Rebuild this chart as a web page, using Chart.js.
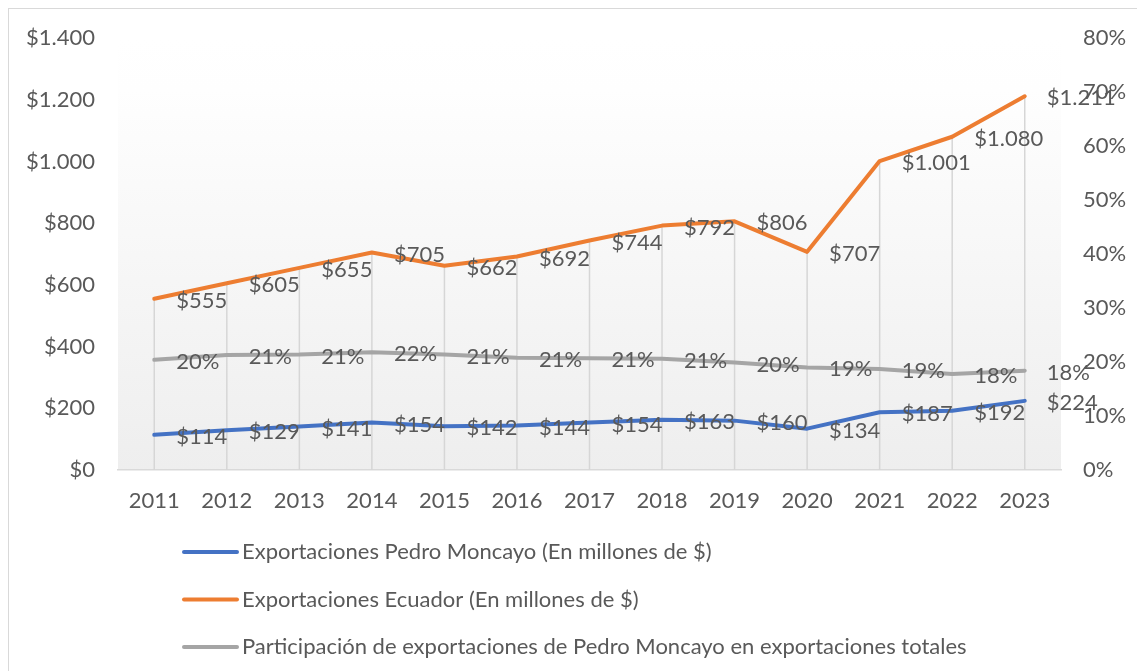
<!DOCTYPE html>
<html>
<head>
<meta charset="utf-8">
<title>Exportaciones Pedro Moncayo</title>
<script src="https://cdn.jsdelivr.net/npm/chart.js@4.4.1/dist/chart.umd.min.js"></script>
<style>
    html, body { margin: 0; padding: 0; background: #fff; overflow: hidden; }
    #wrap { position: relative; width: 1137px; height: 671px; overflow: hidden; }
    #frame { position: absolute; left: 8px; top: 8px; width: 1200px; height: 700px; border: 1.5px solid #d9d9d9; }
    #chart { position: absolute; left: 0; top: 0; }
</style>
</head>
<body>
<div id="wrap">
    <div id="frame"></div>
    <canvas id="chart" width="1137" height="671"></canvas>
</div>
<script>
const years = ['2011', '2012', '2013', '2014', '2015', '2016', '2017', '2018', '2019', '2020', '2021', '2022', '2023'];
const pedroMoncayo = [114, 129, 141, 154, 142, 144, 154, 163, 160, 134, 187, 192, 224];
const ecuador = [555, 605, 655, 705, 662, 692, 744, 792, 806, 707, 1001, 1080, 1211];
const participacion = [0.204, 0.213, 0.214, 0.218, 0.214, 0.208, 0.207, 0.206, 0.199, 0.190, 0.187, 0.178, 0.184];

const seriesLabels = [
    'Exportaciones Pedro Moncayo (En millones de $)',
    'Exportaciones Ecuador (En millones de $)',
    'Participación de exportaciones de Pedro Moncayo en exportaciones totales'
];
const seriesColors = ['#4472C4', '#ED7D31', '#A5A5A5'];

const textColor = '#595959';
const fontFamily = 'Lato, "Open Sans", sans-serif';
const fontSize = 22;

function money(v) {
    return '$' + String(Math.round(v)).replace(/\B(?=(\d{3})+(?!\d))/g, '.');
}

function percent(v) {
    return Math.round(v * 100) + '%';
}

// gradient fill behind the plot area
const plotBackground = {
    id: 'plotBackground',
    beforeDraw(chart) {
        const { ctx, chartArea: a } = chart;
        const g = ctx.createLinearGradient(0, a.top, 0, a.bottom);
        g.addColorStop(0, '#ffffff');
        g.addColorStop(0.12, '#fefefe');
        g.addColorStop(1, '#eeeeee');
        ctx.save();
        ctx.fillStyle = g;
        ctx.fillRect(a.left, a.top, a.right - a.left, a.bottom - a.top);
        ctx.restore();
    }
};

// vertical drop lines from the highest point to the axis
const dropLines = {
    id: 'dropLines',
    beforeDatasetsDraw(chart) {
        const { ctx, chartArea: a } = chart;
        const metas = chart.data.datasets.map((_, i) => chart.getDatasetMeta(i));
        ctx.save();
        ctx.strokeStyle = '#d6d6d6';
        ctx.lineWidth = 1.5;
        years.forEach((_, i) => {
            const top = Math.min(...metas.map(m => m.data[i].y));
            const x = metas[0].data[i].x;
            ctx.beginPath();
            ctx.moveTo(x, top);
            ctx.lineTo(x, a.bottom);
            ctx.stroke();
        });
        ctx.restore();
    }
};

// data labels to the right of each point
const pointLabels = {
    id: 'pointLabels',
    afterDatasetsDraw(chart) {
        const { ctx } = chart;
        ctx.save();
        ctx.font = fontSize + 'px ' + fontFamily;
        ctx.fillStyle = textColor;
        ctx.textAlign = 'left';
        ctx.textBaseline = 'middle';
        chart.data.datasets.forEach((ds, i) => {
            const fmt = ds.yAxisID === 'y1' ? percent : money;
            chart.getDatasetMeta(i).data.forEach((pt, j) => {
                ctx.fillText(fmt(ds.data[j]), pt.x + 22, pt.y + 2);
            });
        });
        ctx.restore();
    }
};

// legend stacked one entry per row under the axis
const stackedLegend = {
    id: 'stackedLegend',
    afterDraw(chart) {
        const { ctx } = chart;
        ctx.save();
        ctx.font = fontSize + 'px ' + fontFamily;
        ctx.textBaseline = 'middle';
        ctx.textAlign = 'left';
        chart.data.datasets.forEach((ds, i) => {
            const y = 552 + i * 47.5;
            ctx.strokeStyle = ds.borderColor;
            ctx.lineWidth = 4;
            ctx.lineCap = 'round';
            ctx.beginPath();
            ctx.moveTo(184, y);
            ctx.lineTo(237, y);
            ctx.stroke();
            ctx.fillStyle = textColor;
            ctx.fillText(ds.label, 242, y);
        });
        ctx.restore();
    }
};

function makeDataset(label, data, color, axis) {
    return {
        label: label,
        data: data,
        yAxisID: axis,
        borderColor: color,
        backgroundColor: color,
        borderWidth: 4,
        borderCapStyle: 'round',
        borderJoinStyle: 'round',
        pointRadius: 0,
        tension: 0,
        fill: false
    };
}

const ctx = document.getElementById('chart').getContext('2d');

new Chart(ctx, {
    type: 'line',
    data: {
        labels: years,
        datasets: [
            makeDataset(seriesLabels[0], pedroMoncayo, seriesColors[0], 'y'),
            makeDataset(seriesLabels[1], ecuador, seriesColors[1], 'y'),
            makeDataset(seriesLabels[2], participacion, seriesColors[2], 'y1')
        ]
    },
    options: {
        responsive: false,
        animation: false,
        layout: { padding: { top: 38, left: 0, right: 0, bottom: 0 } },
        plugins: {
            legend: { display: false },
            tooltip: { enabled: false }
        },
        scales: {
            x: {
                offset: true,
                grid: { display: false, drawTicks: false },
                border: { display: true, color: '#d9d9d9', width: 1.5 },
                ticks: { color: textColor, font: { family: fontFamily, size: fontSize }, padding: 18, maxRotation: 0 },
                afterFit(scale) { scale.height = 201; }
            },
            y: {
                position: 'left',
                min: 0,
                max: 1400,
                grid: { display: false, drawTicks: false },
                border: { display: false },
                ticks: {
                    stepSize: 200,
                    color: textColor,
                    font: { family: fontFamily, size: fontSize },
                    padding: 23,
                    callback: v => money(v)
                },
                afterFit(scale) { scale.width = 118; }
            },
            y1: {
                position: 'right',
                min: 0,
                max: 0.8,
                grid: { display: false, drawTicks: false },
                border: { display: false },
                ticks: {
                    stepSize: 0.1,
                    color: textColor,
                    font: { family: fontFamily, size: fontSize },
                    padding: 22,
                    callback: v => percent(v)
                },
                afterFit(scale) { scale.width = 76; }
            }
        }
    },
    plugins: [plotBackground, dropLines, pointLabels, stackedLegend]
});
</script>
</body>
</html>
